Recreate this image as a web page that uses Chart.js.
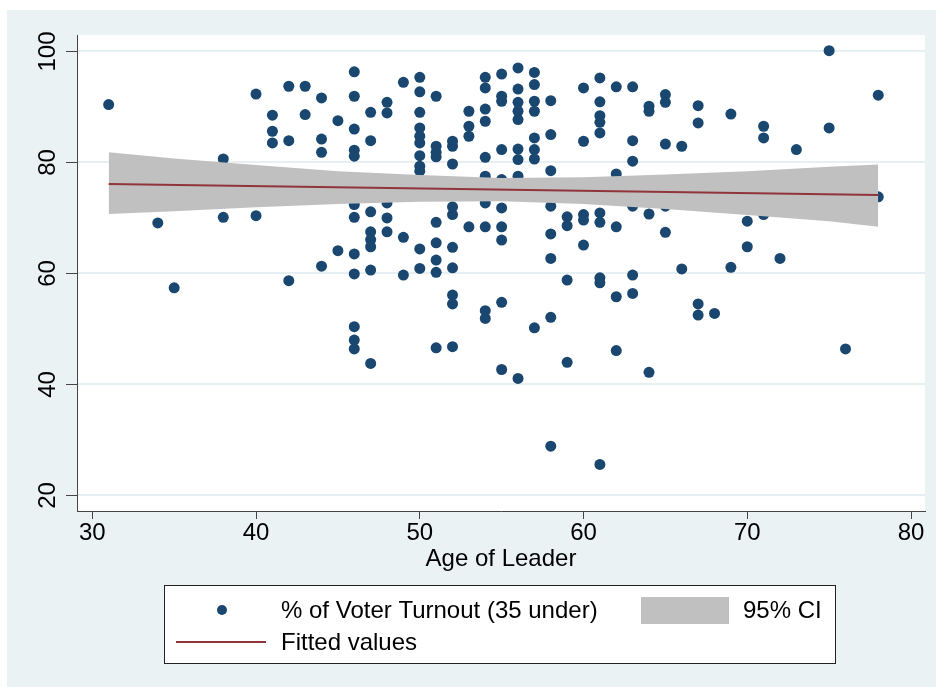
<!DOCTYPE html>
<html>
<head>
<meta charset="utf-8">
<script src="https://cdn.jsdelivr.net/npm/chart.js@4.4.1/dist/chart.umd.min.js"></script>
<style>
  html, body { margin: 0; padding: 0; background: #fff; }
  canvas { display: block; }
</style>
</head>
<body>
<canvas id="chart" width="936" height="687" style="width:936px;height:687px"></canvas>
<script>
// Leader age (x) and youth voter turnout (y), one entry per observation
const ages = [
  31, 34, 35, 38, 38, 40, 40, 41, 41, 41, 42, 42, 42, 43, 43,
  44, 44, 44, 44, 45, 45,
  46, 46, 46, 46, 46, 46, 46, 46, 46, 46, 46, 46,
  47, 47, 47, 47, 47, 47, 47, 47,
  48, 48, 48, 48, 48, 49, 49, 49,
  50, 50, 50, 50, 50, 50, 50, 50, 50, 50, 50,
  51, 51, 51, 51, 51, 51, 51, 51, 51,
  52, 52, 52, 52, 52, 52, 52, 52, 52, 52,
  53, 53, 53, 53,
  54, 54, 54, 54, 54, 54, 54, 54, 54, 54,
  55, 55, 55, 55, 55, 55, 55, 55, 55, 55,
  56, 56, 56, 56, 56, 56, 56, 56, 56,
  57, 57, 57, 57, 57, 57, 57, 57,
  58, 58, 58, 58, 58, 58, 58, 58,
  59, 59, 59, 59,
  60, 60, 60, 60, 60,
  61, 61, 61, 61, 61, 61, 61, 61, 61, 61,
  62, 62, 62, 62, 62,
  63, 63, 63, 63, 63, 63,
  64, 64, 64, 64,
  65, 65, 65, 65, 65,
  66, 66, 67, 67, 67, 67, 68, 69, 69, 70, 70,
  71, 71, 71, 72, 73, 75, 75, 76, 78, 78
];
const turnout = [
  90.3, 69.0, 57.3, 80.5, 70.0, 92.2, 70.3, 88.4, 85.5, 83.4, 93.6, 83.8, 58.6, 93.6, 88.5,
  91.5, 84.1, 81.7, 61.2, 87.4, 64.0,
  96.2, 91.8, 85.9, 82.1, 81.0, 72.3, 70.0, 63.4, 59.8, 50.3, 47.9, 46.3,
  88.9, 83.8, 71.0, 67.4, 66.0, 64.7, 60.5, 43.7,
  90.7, 88.8, 72.6, 69.9, 67.4, 94.3, 66.4, 59.6,
  95.2, 92.6, 88.9, 86.1, 84.6, 83.4, 81.1, 79.2, 78.3, 64.3, 60.8,
  91.8, 82.8, 81.7, 80.9, 69.1, 65.4, 62.3, 60.1, 46.5,
  83.7, 82.8, 79.6, 71.9, 70.5, 64.6, 60.9, 56.0, 54.4, 46.7,
  89.1, 86.4, 84.6, 68.3,
  95.2, 93.3, 89.5, 87.3, 80.8, 77.4, 72.6, 68.3, 53.2, 51.8,
  95.8, 91.8, 90.9, 82.2, 76.8, 71.7, 68.3, 65.9, 54.7, 42.6,
  96.9, 93.1, 90.7, 89.1, 87.6, 82.3, 80.4, 77.4, 41.0,
  96.1, 93.9, 90.9, 89.1, 84.3, 82.2, 80.5, 50.1,
  91.0, 84.9, 78.4, 72.0, 67.0, 62.6, 52.0, 28.8,
  70.1, 68.5, 58.7, 43.9,
  93.3, 83.7, 70.5, 69.5, 65.0,
  95.1, 90.8, 88.3, 87.1, 85.2, 70.8, 69.1, 59.1, 58.2, 25.5,
  93.5, 77.8, 68.3, 55.7, 46.0,
  93.5, 83.8, 80.1, 72.0, 59.6, 56.3,
  90.0, 89.1, 70.6, 42.1,
  92.1, 90.7, 83.2, 72.0, 67.3,
  82.8, 60.7, 90.1, 87.0, 54.4, 52.4, 52.7, 88.6, 61.0, 69.3, 64.7,
  86.4, 84.3, 70.5, 62.6, 82.2, 100.0, 86.1, 46.3, 92.0, 73.7
];

// Linear fit endpoints
const fitAges = [31, 78];
const fitValues = [76.0, 74.0];

// 95% confidence band of the fit
const ciAges  = [31, 35, 40, 45, 50, 55, 60, 65, 70, 75, 78];
const ciLower = [70.6, 71.1, 71.8, 72.4, 72.8, 72.9, 72.4, 71.5, 70.4, 69.3, 68.3];
const ciUpper = [81.7, 80.6, 79.4, 78.3, 77.6, 77.1, 77.2, 77.7, 78.3, 79.1, 79.5];

// Axis ticks
const xTickValues = [30, 40, 50, 60, 70, 80];
const yTickValues = [20, 40, 60, 80, 100];

const FONT = '"Liberation Sans", Arial, Helvetica, sans-serif';
const NAVY = '#1a476f';
const MAROON = '#90353b';
const CI_GRAY = '#c0c0c0';
const OUTER_BG = '#eaf2f3';

const pts = (xs, ys) => xs.map((x, i) => ({ x: x, y: ys[i] }));

// Graph region and white plot region behind everything
const backdrop = {
  id: 'backdrop',
  beforeDraw(chart) {
    const { ctx, chartArea: a } = chart;
    ctx.save();
    ctx.fillStyle = '#ffffff';
    ctx.fillRect(0, 0, chart.width, chart.height);
    ctx.fillStyle = OUTER_BG;
    ctx.fillRect(7, 10, chart.width - 7, chart.height - 10);
    ctx.fillStyle = '#ffffff';
    ctx.fillRect(a.left, a.top, a.right - a.left, a.bottom - a.top);
    ctx.restore();
  }
};

// Vertical y tick labels, outward tick marks, and the boxed legend
const annotate = {
  id: 'annotate',
  afterDraw(chart) {
    const { ctx, chartArea: a } = chart;
    const ys = chart.scales.y;
    ctx.save();
    ctx.strokeStyle = '#444';
    ctx.lineWidth = 1;
    ctx.fillStyle = '#000';
    ctx.font = '24px ' + FONT;
    yTickValues.forEach(v => {
      const py = Math.round(ys.getPixelForValue(v)) + 0.5;
      ctx.beginPath();
      ctx.moveTo(a.left - 11, py);
      ctx.lineTo(a.left, py);
      ctx.stroke();
      ctx.save();
      ctx.translate(55, py);
      ctx.rotate(-Math.PI / 2);
      ctx.textAlign = 'center';
      ctx.textBaseline = 'alphabetic';
      ctx.fillText(String(v), 0, 0);
      ctx.restore();
    });

    // legend box
    const ds = chart.data.datasets;
    const bx = 164, by = 585, bw = 672, bh = 79;
    ctx.fillStyle = '#ffffff';
    ctx.fillRect(bx, by, bw, bh);
    ctx.strokeStyle = '#222';
    ctx.strokeRect(bx + 0.5, by + 0.5, bw - 1, bh - 1);

    const row1 = 610, row2 = 642;
    ctx.font = '24px ' + FONT;
    ctx.textAlign = 'left';
    ctx.textBaseline = 'middle';

    // scatter key
    ctx.fillStyle = ds[3].backgroundColor;
    ctx.beginPath();
    ctx.arc(222, row1, 5, 0, Math.PI * 2);
    ctx.fill();
    ctx.fillStyle = '#000';
    ctx.fillText(ds[3].label, 281, row1 + 1);

    // band key
    ctx.fillStyle = ds[2].backgroundColor;
    ctx.fillRect(641, 597, 88, 27);
    ctx.fillStyle = '#000';
    ctx.fillText(ds[2].label, 743, row1 + 1);

    // fit key
    ctx.strokeStyle = ds[0].borderColor;
    ctx.lineWidth = 2;
    ctx.beginPath();
    ctx.moveTo(176, row2);
    ctx.lineTo(266, row2);
    ctx.stroke();
    ctx.fillStyle = '#000';
    ctx.fillText(ds[0].label, 281, row2 + 1);
    ctx.restore();
  }
};

new Chart(document.getElementById('chart'), {
  type: 'scatter',
  data: {
    datasets: [
      {
        type: 'line', label: 'Fitted values',
        data: pts(fitAges, fitValues),
        borderColor: MAROON, borderWidth: 2, pointRadius: 0, fill: false, order: 1
      },
      {
        type: 'line', label: 'CI lower',
        data: pts(ciAges, ciLower),
        borderColor: CI_GRAY, borderWidth: 0, pointRadius: 0, fill: false, order: 2
      },
      {
        type: 'line', label: '95% CI',
        data: pts(ciAges, ciUpper),
        borderColor: CI_GRAY, borderWidth: 0, pointRadius: 0,
        fill: '-1', backgroundColor: CI_GRAY, order: 2
      },
      {
        type: 'scatter', label: '% of Voter Turnout (35 under)',
        data: pts(ages, turnout),
        backgroundColor: NAVY, borderColor: NAVY, borderWidth: 0,
        pointRadius: 5.5, pointHoverRadius: 5.5, order: 3
      }
    ]
  },
  options: {
    responsive: false,
    animation: false,
    devicePixelRatio: 1,
    layout: { padding: { left: 0, top: 35, right: 11, bottom: 113 } },
    plugins: { legend: { display: false }, tooltip: { enabled: false } },
    scales: {
      x: {
        type: 'linear', position: 'bottom',
        min: 29.066, max: 80.855,
        afterBuildTicks: s => { s.ticks = xTickValues.map(v => ({ value: v })); },
        afterFit: s => { s.height = 63; },
        grid: { display: true, drawOnChartArea: false, drawTicks: true, tickLength: 8, color: '#444', lineWidth: 1 },
        border: { display: true, color: '#444', width: 1 },
        ticks: { color: '#000', font: { family: FONT, size: 24 }, padding: 0, maxRotation: 0, autoSkip: false },
        title: { display: true, text: 'Age of Leader', color: '#000', font: { family: FONT, size: 24 }, padding: { top: 0, bottom: 0 } }
      },
      y: {
        type: 'linear', position: 'left',
        min: 17.12, max: 102.83,
        afterBuildTicks: s => { s.ticks = yTickValues.map(v => ({ value: v })); },
        afterFit: s => { s.width = 77; },
        grid: { color: '#e6eff1', lineWidth: 2, drawTicks: false },
        border: { display: true, color: '#444', width: 1 },
        ticks: { display: false }
      }
    }
  },
  plugins: [backdrop, annotate]
});
</script>
</body>
</html>
